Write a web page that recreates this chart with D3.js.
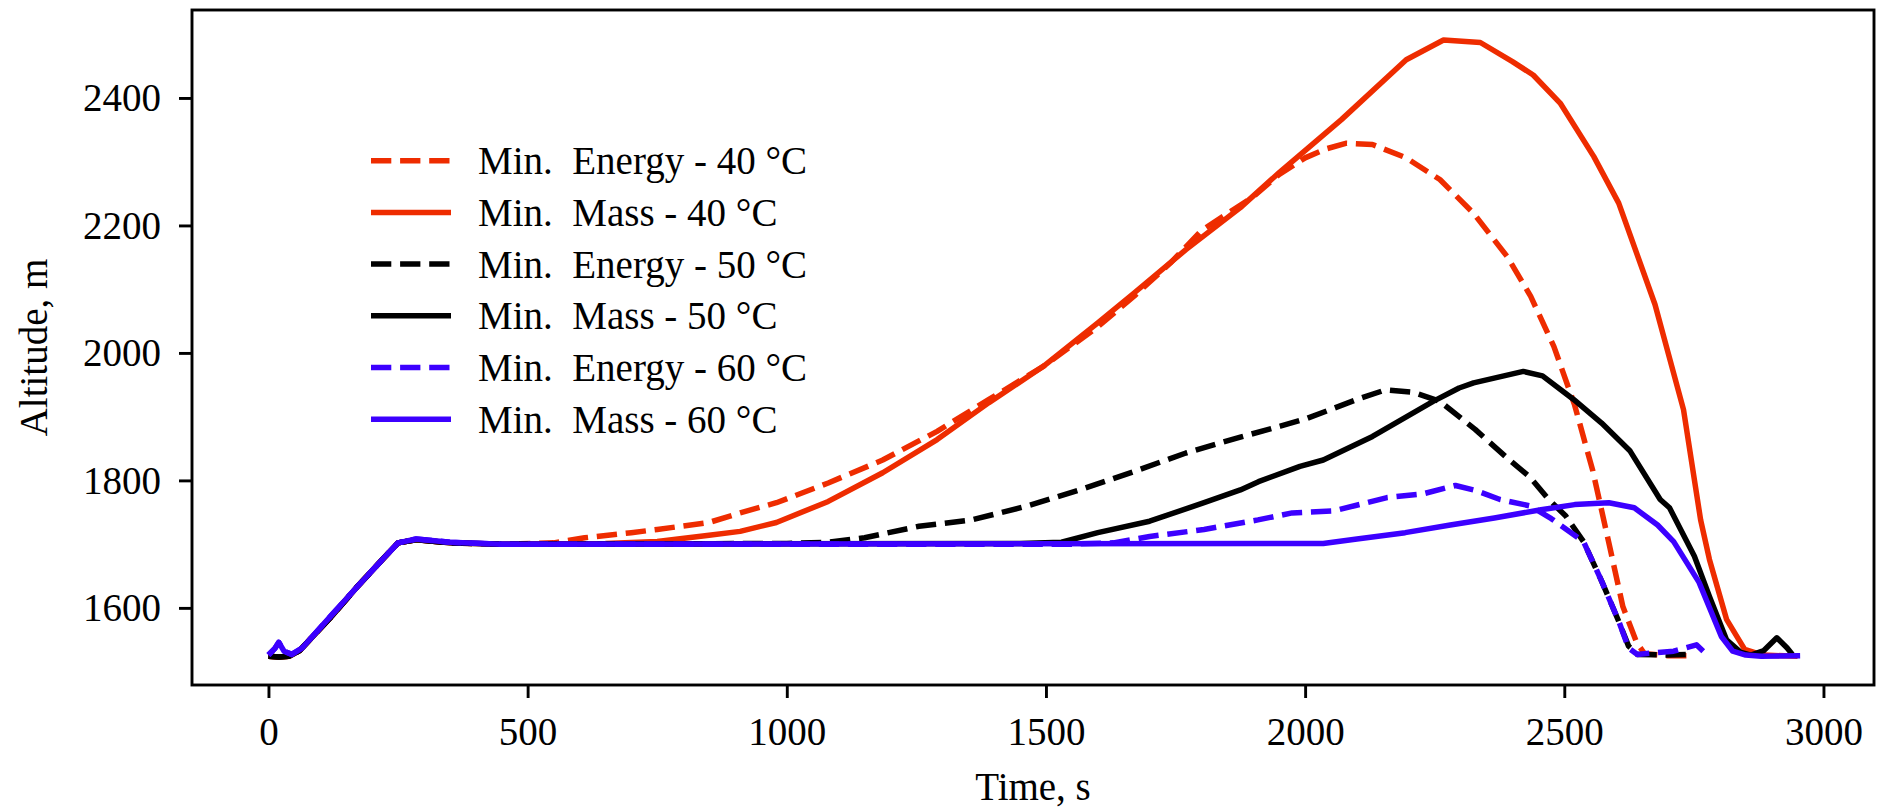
<!DOCTYPE html>
<html>
<head>
<meta charset="utf-8">
<script src="https://cdn.jsdelivr.net/npm/d3@7"></script>
<style>
    html, body { margin: 0; padding: 0; background: #fff; }
    #chart { width: 1877px; height: 809px; }
    #chart text { font-family: "Liberation Serif", "Times New Roman", serif; fill: #000; }
</style>
</head>
<body>
<div id="chart"></div>
<script>
// Climb from the launch site up to the 1700 m cruise level (shared by the 40 and 50 °C runs)
const climb = [[0, 1524], [20, 1523], [40, 1524], [60, 1533], [120, 1585], [170, 1632],
    [220, 1676], [250, 1702], [285, 1707], [350, 1702], [450, 1700]];

// Same climb for the 60 °C runs, with the small hop right after launch
const climbHop = [[0, 1526], [12, 1536], [20, 1546], [30, 1532], [45, 1527], [65, 1537],
    [120, 1587], [170, 1632], [220, 1676], [250, 1702], [285, 1708], [350, 1703], [450, 1700]];

// [time s, altitude m] after the climb
const energy40 = [[550, 1702], [610, 1710], [700, 1718], [750, 1723], [850, 1734], [910, 1749],
    [980, 1765], [1080, 1796], [1185, 1832], [1290, 1877], [1390, 1927], [1495, 1979],
    [1600, 2041], [1670, 2089], [1740, 2141], [1800, 2192], [1900, 2245], [1950, 2280],
    [2000, 2306], [2040, 2320], [2080, 2329], [2130, 2327], [2195, 2306], [2260, 2272],
    [2325, 2219], [2390, 2151], [2435, 2089], [2480, 2010], [2520, 1918], [2555, 1815],
    [2586, 1702], [2613, 1602], [2640, 1545], [2655, 1528], [2700, 1525], [2745, 1525]];

const mass40 = [[650, 1701], [750, 1704], [850, 1714], [910, 1720], [980, 1734], [1080, 1767],
    [1185, 1812], [1290, 1864], [1390, 1922], [1495, 1979], [1600, 2047], [1670, 2094],
    [1770, 2162], [1875, 2228], [1950, 2283], [2070, 2366], [2195, 2460], [2267, 2491],
    [2338, 2487], [2400, 2457], [2440, 2436], [2492, 2392], [2557, 2308], [2605, 2235],
    [2675, 2076], [2730, 1911], [2763, 1738], [2780, 1676], [2813, 1582], [2848, 1535],
    [2883, 1526], [2950, 1524]];

const energy50 = [[1000, 1701], [1080, 1703], [1150, 1710], [1255, 1728], [1357, 1738],
    [1460, 1759], [1565, 1785], [1670, 1814], [1770, 1843], [1875, 1868], [1952, 1885],
    [2003, 1897], [2100, 1927], [2155, 1942], [2210, 1938], [2260, 1924], [2328, 1880],
    [2390, 1835], [2434, 1805], [2470, 1770], [2503, 1744], [2537, 1704], [2571, 1644],
    [2606, 1577], [2624, 1540], [2641, 1527], [2700, 1526], [2748, 1527]];

const mass50 = [[1450, 1701], [1530, 1703], [1600, 1718], [1700, 1736], [1805, 1765],
    [1875, 1785], [1910, 1798], [1990, 1822], [2035, 1832], [2130, 1869], [2247, 1924],
    [2297, 1945], [2325, 1953], [2421, 1971], [2458, 1964], [2518, 1927], [2572, 1890],
    [2627, 1846], [2685, 1770], [2703, 1757], [2751, 1681], [2780, 1618], [2813, 1550],
    [2841, 1530], [2860, 1526], [2885, 1533], [2910, 1553], [2930, 1537], [2940, 1527]];

const energy60 = [[1550, 1700], [1630, 1702], [1700, 1712], [1805, 1723], [1909, 1738],
    [1975, 1749], [2055, 1752], [2158, 1773], [2228, 1779], [2290, 1792], [2330, 1784],
    [2376, 1770], [2434, 1760], [2475, 1740], [2537, 1704], [2571, 1644], [2606, 1577],
    [2624, 1537], [2641, 1527], [2711, 1532], [2755, 1542], [2768, 1532]];

const mass60 = [[2035, 1701], [2100, 1708], [2193, 1718], [2280, 1730], [2365, 1741],
    [2455, 1754], [2520, 1762], [2586, 1765], [2635, 1757], [2680, 1730], [2711, 1704],
    [2760, 1640], [2803, 1555], [2825, 1532], [2850, 1526], [2880, 1524], [2955, 1525]];

const seriesLabels = ["Min. Energy - 40 °C", "Min. Mass - 40 °C", "Min. Energy - 50 °C",
    "Min. Mass - 50 °C", "Min. Energy - 60 °C", "Min. Mass - 60 °C"];
const seriesData = [climb.concat(energy40), climb.concat(mass40), climb.concat(energy50),
    climb.concat(mass50), climbHop.concat(energy60), climbHop.concat(mass60)];

const xTicks = [0, 500, 1000, 1500, 2000, 2500, 3000];
const yTicks = [1600, 1800, 2000, 2200, 2400];

// Line styles, one per series
const lineColors = ["#ee2c00", "#ee2c00", "#000000", "#000000", "#3c00ff", "#3c00ff"];
const lineDashed = [true, false, true, false, true, false];

class LineVis {
    constructor(parentElement) {
        this.parentElement = parentElement;
        this.initVis();
    }

    initVis() {
        let vis = this;

        vis.margin = { top: 10, right: 3, bottom: 124, left: 192 };
        vis.width = 1877 - vis.margin.left - vis.margin.right;
        vis.height = 809 - vis.margin.top - vis.margin.bottom;
        vis.fontSize = 39;

        vis.svg = d3.select("#" + vis.parentElement).append("svg")
            .attr("width", 1877)
            .attr("height", 809)
            .append("g")
            .attr("transform", `translate(${vis.margin.left}, ${vis.margin.top})`);

        // matplotlib style limits: 5% padding around the data
        vis.x = d3.scaleLinear().domain([-147.5, 3097.5]).range([0, vis.width]);
        vis.y = d3.scaleLinear().domain([1479, 2538]).range([vis.height, 0]);

        vis.updateVis();
    }

    updateVis() {
        let vis = this;

        let line = d3.line()
            .x(d => vis.x(d[0]))
            .y(d => vis.y(d[1]));

        // Curves, drawn in legend order so the 60 °C runs end up on top
        vis.svg.selectAll(".run")
            .data(seriesData)
            .enter()
            .append("path")
            .attr("class", "run")
            .attr("d", line)
            .attr("fill", "none")
            .attr("stroke", (d, i) => lineColors[i])
            .attr("stroke-width", 5.5)
            .attr("stroke-linejoin", "round")
            .attr("stroke-dasharray", (d, i) => lineDashed[i] ? "20.3,8.8" : null);

        // Axes
        let xAxis = vis.svg.append("g")
            .attr("transform", `translate(0, ${vis.height})`)
            .call(d3.axisBottom(vis.x).tickValues(xTicks).tickSize(13).tickFormat(d3.format("d")));
        xAxis.selectAll("text")
            .attr("y", 60)
            .attr("dy", null)
            .style("font-size", vis.fontSize + "px");

        let yAxis = vis.svg.append("g")
            .call(d3.axisLeft(vis.y).tickValues(yTicks).tickSize(13).tickFormat(d3.format("d")));
        yAxis.selectAll("text")
            .attr("x", -31)
            .attr("dy", "0.33em")
            .style("font-size", vis.fontSize + "px");

        vis.svg.selectAll(".domain").remove();
        vis.svg.selectAll(".tick line")
            .attr("stroke", "#000")
            .attr("stroke-width", 2.9);

        // Frame round the plot
        vis.svg.append("rect")
            .attr("width", vis.width)
            .attr("height", vis.height)
            .attr("fill", "none")
            .attr("stroke", "#000")
            .attr("stroke-width", 2.9);

        // Axis titles
        vis.svg.append("text")
            .attr("x", vis.width / 2)
            .attr("y", vis.height + 115)
            .attr("text-anchor", "middle")
            .style("font-size", vis.fontSize + "px")
            .text("Time, s");

        vis.svg.append("text")
            .attr("transform", `translate(${47 - vis.margin.left}, ${vis.height / 2}) rotate(-90)`)
            .attr("text-anchor", "middle")
            .style("font-size", vis.fontSize + "px")
            .text("Altitude, m");

        // Legend, no frame
        let legend = vis.svg.append("g")
            .attr("transform", `translate(${371 - vis.margin.left}, ${160.7 - vis.margin.top})`);

        let rows = legend.selectAll(".legend-row")
            .data(seriesLabels)
            .enter()
            .append("g")
            .attr("class", "legend-row")
            .attr("transform", (d, i) => `translate(0, ${i * 51.7})`);

        rows.append("line")
            .attr("x1", 0)
            .attr("x2", 80)
            .attr("stroke", (d, i) => lineColors[i])
            .attr("stroke-width", 5.5)
            .attr("stroke-dasharray", (d, i) => lineDashed[i] ? "20.3,8.8" : null);

        rows.append("text")
            .attr("x", 107)
            .attr("y", 13.5)
            .style("font-size", vis.fontSize + "px")
            .style("white-space", "pre")
            .text(d => d.replace("Min. ", "Min.  "));
    }
}

new LineVis("chart");
</script>
</body>
</html>
